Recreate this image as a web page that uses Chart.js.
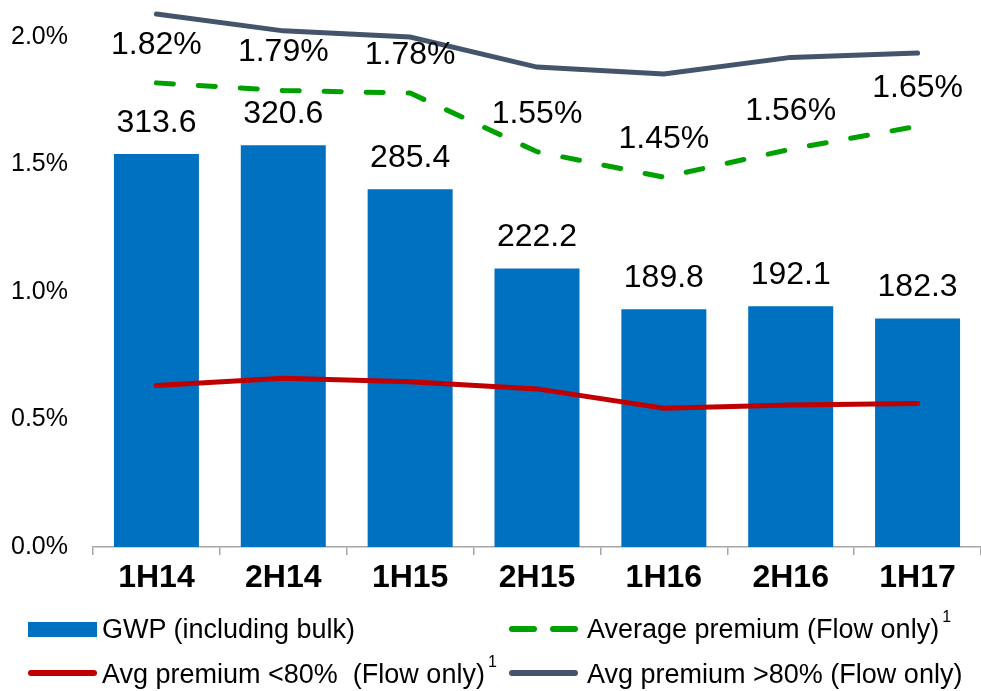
<!DOCTYPE html>
<html>
<head>
<meta charset="utf-8">
<script src="https://cdn.jsdelivr.net/npm/chart.js@4/dist/chart.umd.min.js"></script>
<style>
    body { margin: 0; background: #fff; }
    .wrap { position: relative; width: 981px; height: 691px; font-family: "Liberation Sans", Arial, sans-serif; }
    .leg { position: absolute; font-size: 27px; color: #000; white-space: nowrap; line-height: 30px; }
    .leg sup { font-size: 16px; position: relative; top: -12px; vertical-align: top; margin-left: 3px; }
    .sw { position: absolute; }
</style>
</head>
<body>
<div class="wrap">
    <canvas id="chart" width="981" height="691"></canvas>

    <!-- legend -->
    <div class="sw" style="left:28px; top:622px; width:69px; height:15px; background:#0070C0;"></div>
    <div class="leg" style="left:102px; top:614px;">GWP (including bulk)</div>

    <div class="sw" style="left:509px; top:626px; width:28px; height:6px; border-radius:3px; background:#00A000;"></div>
    <div class="sw" style="left:550px; top:626px; width:28px; height:6px; border-radius:3px; background:#00A000;"></div>
    <div class="leg" style="left:587px; top:614px;">Average premium (Flow only)<sup>1</sup></div>

    <div class="sw" style="left:28px; top:670px; width:69px; height:6px; border-radius:3px; background:#C00000;"></div>
    <div class="leg" style="left:102px; top:659px;">Avg premium &lt;80%&nbsp; (Flow only)<sup>1</sup></div>

    <div class="sw" style="left:509px; top:670px; width:69px; height:6px; border-radius:3px; background:#44546A;"></div>
    <div class="leg" style="left:587px; top:659px;">Avg premium &gt;80% (Flow only)</div>
</div>

<script>
// Data
const periods = ['1H14', '2H14', '1H15', '2H15', '1H16', '2H16', '1H17'];
const gwp = [313.6, 320.6, 285.4, 222.2, 189.8, 192.1, 182.3];
const avgPremium = [1.82, 1.79, 1.78, 1.55, 1.45, 1.56, 1.65];
const premiumBelow80 = [0.633, 0.662, 0.648, 0.62, 0.544, 0.557, 0.563];
const premiumAbove80 = [2.09, 2.024, 2.0, 1.882, 1.855, 1.92, 1.937];
const yTicks = [0, 0.5, 1.0, 1.5, 2.0];

const Y_MAX = 2.145;
const BAR_MAX = 407 * Y_MAX / 2;
const FONT = '"Liberation Sans", Arial, sans-serif';

// Value labels above bars and dashed line
const valueLabels = {
    id: 'valueLabels',
    afterDatasetsDraw(chart) {
        const ctx = chart.ctx;
        ctx.save();
        ctx.font = '32px ' + FONT;
        ctx.fillStyle = '#000';
        ctx.textAlign = 'center';
        ctx.textBaseline = 'middle';

        chart.getDatasetMeta(0).data.forEach((bar, i) => {
            ctx.fillText(gwp[i].toFixed(1), bar.x, bar.y - 31);
        });
        chart.getDatasetMeta(1).data.forEach((pt, i) => {
            ctx.fillText(avgPremium[i].toFixed(2) + '%', pt.x, pt.y - 38);
        });
        ctx.restore();
    }
};

const ctx = document.getElementById('chart');
new Chart(ctx, {
    type: 'bar',
    data: {
        labels: periods,
        datasets: [{
            type: 'bar',
            label: 'GWP (including bulk)',
            data: gwp,
            yAxisID: 'y2',
            backgroundColor: '#0070C0',
            categoryPercentage: 1,
            barPercentage: 0.67,
            order: 10
        }, {
            type: 'line',
            label: 'Average premium (Flow only)',
            data: avgPremium,
            borderColor: '#00A000',
            borderWidth: 5,
            borderDash: [17, 25],
            borderCapStyle: 'round',
            pointRadius: 0,
            tension: 0,
            order: 2
        }, {
            type: 'line',
            label: 'Avg premium <80% (Flow only)',
            data: premiumBelow80,
            borderColor: '#C00000',
            borderWidth: 5,
            borderCapStyle: 'round',
            pointRadius: 0,
            tension: 0,
            order: 1
        }, {
            type: 'line',
            label: 'Avg premium >80% (Flow only)',
            data: premiumAbove80,
            borderColor: '#44546A',
            borderWidth: 5,
            borderCapStyle: 'round',
            pointRadius: 0,
            tension: 0,
            clip: false,
            order: 1
        }]
    },
    options: {
        responsive: false,
        animation: false,
        layout: { padding: 0 },
        plugins: {
            legend: { display: false },
            tooltip: { enabled: false }
        },
        scales: {
            x: {
                offset: true,
                grid: {
                    offset: true,
                    drawOnChartArea: false,
                    drawTicks: true,
                    tickLength: 8,
                    color: '#A6A6A6',
                    lineWidth: 1.5
                },
                border: { display: true, color: '#A6A6A6', width: 1.5 },
                ticks: {
                    padding: 4,
                    color: '#000',
                    font: { family: FONT, size: 32, weight: 'bold' },
                    maxRotation: 0
                },
                afterFit(scale) {
                    scale.height = 144;
                    scale.paddingLeft = 0;
                    scale.paddingRight = 0;
                }
            },
            y: {
                min: 0,
                max: Y_MAX,
                grid: { display: false, drawTicks: false },
                border: { display: false },
                ticks: {
                    padding: 25,
                    color: '#000',
                    font: { family: FONT, size: 25 },
                    callback: v => v.toFixed(1) + '%'
                },
                afterBuildTicks(scale) {
                    scale.ticks = yTicks.map(v => ({ value: v }));
                },
                afterFit(scale) {
                    scale.width = 93;
                    scale.paddingTop = 0;
                    scale.paddingBottom = 0;
                }
            },
            y2: {
                display: false,
                min: 0,
                max: BAR_MAX
            }
        }
    },
    plugins: [valueLabels]
});
</script>
</body>
</html>
